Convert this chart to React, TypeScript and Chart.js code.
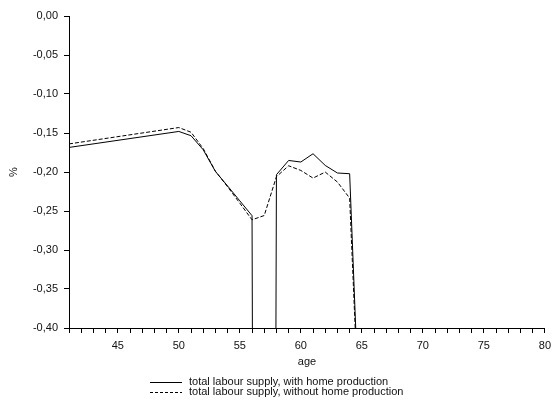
import { useEffect, useRef } from 'react';
import { Chart, registerables } from 'chart.js';

Chart.register(...registerables);

// Age profile of the change in total labour supply (%)
const ages = [41, 50, 51, 52, 53, 54, 55, 56, 57, 58, 59, 60, 61, 62, 63, 64, 65];
const withHome = [
  -0.1685, -0.148, -0.1535, -0.1715, -0.1993, -0.218, -0.237, -0.256, -5, -0.2035,
  -0.1852, -0.1872, -0.1766, -0.1916, -0.2013, -0.2022, -0.6,
];
const withoutHome = [
  -0.164, -0.143, -0.149, -0.17, -0.199, -0.219, -0.24, -0.2613, -0.2558, -0.206,
  -0.192, -0.198, -0.2078, -0.2001, -0.2129, -0.2335, -0.6,
];
const seriesNames = [
  'total labour supply, with home production',
  'total labour supply, without home production',
];
const xTitle = 'age';
const yTitle = '%';

const FONT_FAMILY = '"Liberation Sans", Arial, Helvetica, sans-serif';
const TEXT_COLOR = '#111';

const fmtComma = (v: number) => (Math.abs(v) < 1e-9 ? 0 : v).toFixed(2).replace('.', ',');

const textPlugin = {
  id: 'axisTitlesAndLegend',
  afterDraw(chart: any) {
    const { ctx, chartArea } = chart;
    ctx.save();
    ctx.font = `11px ${FONT_FAMILY}`;
    ctx.fillStyle = TEXT_COLOR;
    ctx.textBaseline = 'middle';

    // x title
    ctx.textAlign = 'center';
    ctx.fillText(xTitle, (chartArea.left + chartArea.right) / 2, 362);

    // y title, rotated
    ctx.save();
    ctx.translate(14, (chartArea.top + chartArea.bottom) / 2);
    ctx.rotate(-Math.PI / 2);
    ctx.fillText(yTitle, 0, 0);
    ctx.restore();

    // legend, one entry per row
    const rows = [381.5, 392];
    chart.data.datasets.forEach((ds: any, i: number) => {
      const y = rows[i];
      ctx.strokeStyle = ds.borderColor;
      ctx.lineWidth = 1;
      ctx.setLineDash(i === 0 ? [] : [3, 2]);
      ctx.beginPath();
      ctx.moveTo(150, Math.round(y) + 0.5);
      ctx.lineTo(182, Math.round(y) + 0.5);
      ctx.stroke();
      ctx.setLineDash([]);
      ctx.textAlign = 'left';
      ctx.fillText(seriesNames[i], 189, y);
    });
    ctx.restore();
  },
};

export default function App() {
  const ref = useRef<HTMLCanvasElement>(null);

  useEffect(() => {
    const canvas = ref.current;
    if (!canvas) return;
    const tickFont = { family: FONT_FAMILY, size: 11 };
    const chart = new Chart(canvas, {
      type: 'line',
      data: {
        datasets: [
          {
            label: seriesNames[0],
            data: ages.map((a, i) => ({ x: a, y: withHome[i] })),
            borderColor: '#000',
            borderWidth: 1,
            pointRadius: 0,
            fill: false,
          },
          {
            label: seriesNames[1],
            data: ages.map((a, i) => ({ x: a, y: withoutHome[i] })),
            borderColor: '#000',
            borderWidth: 1,
            borderDash: [4, 2],
            pointRadius: 0,
            fill: false,
          },
        ],
      },
      options: {
        responsive: false,
        devicePixelRatio: 1,
        animation: false,
        layout: { padding: { top: 16, right: 9, left: 0, bottom: 0 } },
        plugins: {
          legend: { display: false },
          tooltip: { enabled: false },
        },
        elements: { line: { tension: 0 } },
        scales: {
          x: {
            type: 'linear',
            min: 41,
            max: 80,
            afterFit: (s: any) => {
              s.height = 72;
            },
            border: { display: true, color: '#000', width: 1 },
            grid: { display: true, drawOnChartArea: false, drawTicks: true, tickLength: 5, color: '#000' },
            ticks: {
              stepSize: 1,
              autoSkip: false,
              maxTicksLimit: 100,
              maxRotation: 0,
              padding: 6,
              color: TEXT_COLOR,
              font: tickFont,
              callback: (v: any) => (Number(v) % 5 === 0 ? String(v) : ''),
            },
          },
          y: {
            type: 'linear',
            min: -0.4,
            max: 0,
            afterFit: (s: any) => {
              s.width = 69;
            },
            border: { display: true, color: '#000', width: 1 },
            grid: { display: true, drawOnChartArea: false, drawTicks: true, tickLength: 5, color: '#000' },
            ticks: {
              stepSize: 0.05,
              padding: 6,
              color: TEXT_COLOR,
              font: tickFont,
              callback: (v: any) => fmtComma(Number(v)),
            },
          },
        },
      },
      plugins: [textPlugin],
    });
    return () => chart.destroy();
  }, []);

  return (
    <div style={{ position: 'fixed', left: 0, top: 0, width: 557, height: 400, background: '#fff' }}>
      <canvas ref={ref} width={557} height={400} style={{ display: 'block' }} />
    </div>
  );
}
